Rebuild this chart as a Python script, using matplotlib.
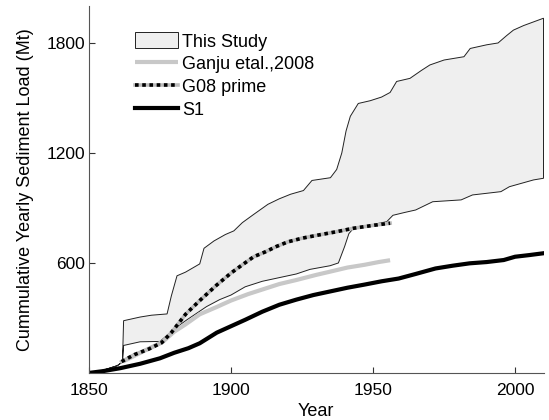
import matplotlib
matplotlib.use("Agg")
import matplotlib.pyplot as plt
import numpy as np

plt.rcParams['font.family'] = ['Liberation Sans', 'DejaVu Sans']

# Envelope of this study (upper / lower bounds)
upper_years = [1850, 1855, 1860, 1861.8, 1862.2, 1868, 1872, 1877.5, 1879, 1881, 1884, 1889,
               1890.5, 1894, 1898, 1901, 1904, 1908, 1913, 1917, 1921, 1925.5, 1928.5, 1935,
               1937.2, 1939, 1940.5, 1942, 1944.8, 1949, 1953, 1956, 1958.3, 1963, 1967, 1970,
               1975, 1982, 1984.2, 1990, 1994, 1997, 1999.4, 2003, 2006.5, 2010]
upper_vals = [0, 15, 40, 60, 285, 305, 315, 322, 420, 530, 550, 595,
              680, 720, 755, 775, 820, 865, 920, 950, 975, 995, 1050, 1065,
              1110, 1200, 1320, 1400, 1470, 1485, 1505, 1530, 1590, 1607, 1650, 1680,
              1707, 1725, 1770, 1790, 1800, 1840, 1870, 1895, 1915, 1935]

lower_years = [1850, 1855, 1860, 1861.8, 1862.2, 1868, 1875, 1877.5, 1880, 1884.4, 1891.4,
               1896, 1900, 1905, 1911, 1917, 1923, 1927.8, 1934.9, 1937.8, 1940, 1941.5,
               1943.1, 1946.6, 1950, 1954.8, 1957, 1961, 1965, 1971, 1981, 1985, 1995, 1998,
               2006.5, 2010]
lower_vals = [0, 15, 40, 60, 150, 170, 172, 205, 240, 289, 362,
              400, 425, 470, 500, 520, 540, 565, 585, 600, 690, 760,
              789, 798, 810, 825, 860, 875, 889, 934, 944, 971, 989, 1016,
              1053, 1062]

# Ganju et al., 2008
ganju_years = [1862, 1870, 1876, 1880, 1884, 1889, 1895, 1900, 1906, 1911, 1917, 1923,
               1930, 1935, 1941, 1947, 1952, 1956]
ganju_vals = [62, 125, 170, 225, 265, 320, 360, 395, 430, 455, 485, 507,
              535, 553, 575, 590, 605, 615]

# G08 prime
g08_years = [1861.5, 1866, 1871, 1875.6, 1879, 1884, 1889, 1895, 1900, 1904, 1908, 1912,
             1916, 1920, 1925, 1931, 1937, 1943, 1950, 1956]
g08_vals = [62, 100, 130, 165, 220, 320, 395, 480, 545, 590, 634, 660,
            690, 715, 735, 753, 770, 789, 805, 817]

# S1
s1_years = [1850, 1855, 1861, 1868, 1875, 1880, 1885, 1889, 1895, 1900, 1905, 1911, 1917,
            1923, 1929, 1935, 1941, 1947, 1953, 1959, 1965, 1972, 1978, 1984, 1990, 1996,
            2000, 2005, 2010]
s1_vals = [0, 10, 26, 50, 80, 110, 135, 162, 220, 255, 290, 334, 372,
           400, 425, 445, 465, 482, 500, 515, 540, 570, 585, 598, 605, 616,
           634, 643, 653]

x_ticks = [1850, 1900, 1950, 2000]
y_ticks = [600, 1200, 1800]

fig = plt.figure(figsize=(5.49, 4.20), dpi=100)
ax = fig.add_axes([0.162, 0.112, 0.828, 0.873])

# Band polygon: upper bound forward, lower bound backward
poly_x = np.concatenate([upper_years, lower_years[::-1]])
poly_y = np.concatenate([upper_vals, lower_vals[::-1]])
band = ax.fill(poly_x, poly_y, facecolor='#efefef', edgecolor='#222222', linewidth=0.7,
               label='This Study')[0]

ganju, = ax.plot(ganju_years, ganju_vals, color='#c8c8c8', linewidth=3.0,
                 solid_capstyle='butt', label='Ganju etal.,2008')
g08_base, = ax.plot(g08_years, g08_vals, color='#bdbdbd', linewidth=2.6)
g08_dots, = ax.plot(g08_years, g08_vals, color='black', linewidth=2.6,
                    linestyle=(0, (1, 1)), dash_capstyle='butt')
s1, = ax.plot(s1_years, s1_vals, color='black', linewidth=3.0, label='S1')

ax.set_xlim(1850, 2010)
ax.set_ylim(0, 2000)
ax.set_xticks(x_ticks)
ax.set_yticks(y_ticks)
ax.tick_params(direction='in', length=4, width=0.8, labelsize=12.5, colors='#333333',
               labelcolor='black')
ax.tick_params(axis='x', pad=7)
ax.tick_params(axis='y', pad=3)
for side in ('top', 'right'):
    ax.spines[side].set_visible(False)
for side in ('left', 'bottom'):
    ax.spines[side].set_color('#555555')
    ax.spines[side].set_linewidth(0.8)

ax.set_xlabel('Year', fontsize=13, labelpad=4)
ax.set_ylabel('Cummulative Yearly Sediment Load (Mt)', fontsize=13, labelpad=9)

ax.legend([band, ganju, (g08_base, g08_dots), s1],
          ['This Study', 'Ganju etal.,2008', 'G08 prime', 'S1'],
          loc='upper left', bbox_to_anchor=(0.101, 0.929), frameon=False,
          fontsize=13, handlelength=2.4, handleheight=1.0, handletextpad=0.2,
          labelspacing=0.25, borderpad=0.0, borderaxespad=0.0)

fig.savefig('out.png', dpi=100)
